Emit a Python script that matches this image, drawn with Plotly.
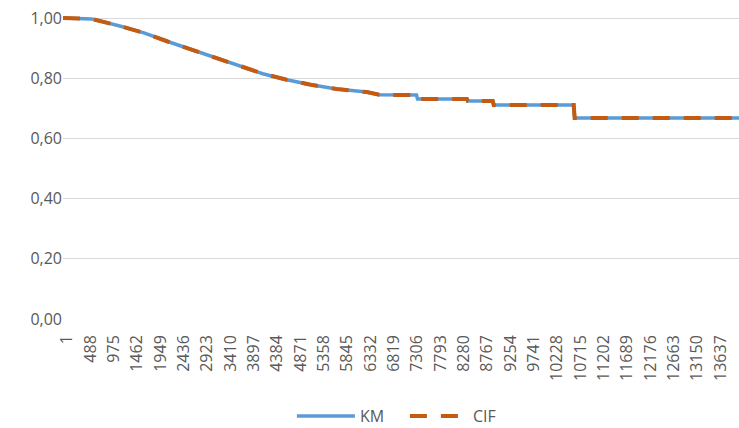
import plotly.graph_objects as go

# Follow-up time (days) and survival estimates
time_days = [1, 600, 1226, 1706, 2186, 2687, 3167, 3626, 4169, 4670, 5150, 5713,
             6339, 6600, 7380, 7400, 8430, 8450, 8970, 8990, 10660, 10680, 14110]
km = [1.000, 0.997, 0.972, 0.950, 0.922, 0.895, 0.867, 0.845, 0.815, 0.795, 0.779,
      0.764, 0.754, 0.745, 0.744, 0.731, 0.731, 0.724, 0.724, 0.711, 0.711, 0.668, 0.668]
cif = [1.000, 0.997, 0.972, 0.950, 0.922, 0.895, 0.867, 0.845, 0.815, 0.795, 0.779,
       0.764, 0.754, 0.745, 0.744, 0.731, 0.731, 0.724, 0.724, 0.711, 0.711, 0.668, 0.668]

# Category labels shown along the time axis
x_ticks = [1, 488, 975, 1462, 1949, 2436, 2923, 3410, 3897, 4384, 4871, 5358, 5845,
           6332, 6819, 7306, 7793, 8280, 8767, 9254, 9741, 10228, 10715, 11202,
           11689, 12176, 12663, 13150, 13637]
y_ticks = [0, 0.2, 0.4, 0.6, 0.8, 1.0]

FONT = "Open Sans"
GREY = "#595959"

fig = go.Figure()
fig.add_trace(go.Scatter(
    x=time_days, y=km, name="KM", mode="lines",
    line=dict(color="#5B9BD5", width=3.5),
))
fig.add_trace(go.Scatter(
    x=time_days, y=cif, name="CIF", mode="lines",
    line=dict(color="#C55A11", width=4, dash="17px,14px"),
))

fig.update_layout(
    width=739, height=428,
    margin=dict(l=63, r=0, t=12, b=109, autoexpand=False),
    paper_bgcolor="white", plot_bgcolor="white",
    separators=",.",
    font=dict(family=FONT, size=16, color=GREY),
    showlegend=True,
    legend=dict(
        orientation="h", xref="container", yref="container",
        xanchor="left", x=0.395, yanchor="middle", y=0.028,
        font=dict(family=FONT, size=16, color=GREY),
        itemwidth=58, entrywidth=40, entrywidthmode="pixels",
        traceorder="normal",
    ),
)
fig.update_xaxes(
    range=[1, 14110], tickmode="array", tickvals=x_ticks,
    ticktext=[str(v) for v in x_ticks], tickangle=-90,
    showgrid=False, zeroline=False, showline=False, ticks="",
    ticklabelstandoff=12, ticklabelshift=4, automargin=False,
    tickfont=dict(family=FONT, size=16, color=GREY),
)
fig.update_yaxes(
    range=[0, 1.02], tickmode="array", tickvals=y_ticks, tickformat=".2f",
    showgrid=True, gridcolor="#D9D9D9", gridwidth=1, zeroline=False,
    showline=False, ticks="", automargin=False,
    tickfont=dict(family=FONT, size=16, color=GREY),
)

fig.write_html("out.html")
